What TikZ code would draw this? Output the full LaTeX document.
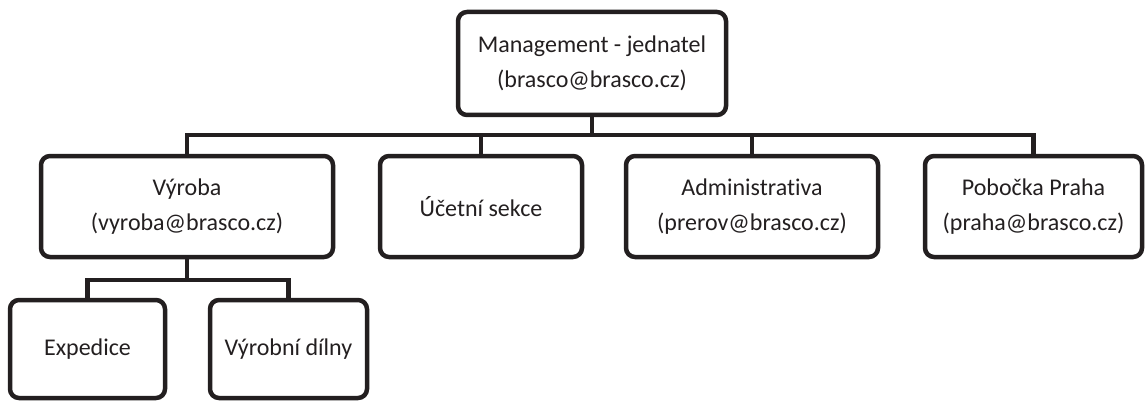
\documentclass[tikz,border=0pt]{standalone}
\usepackage{fontspec}
\setmainfont{Carlito}[Ligatures=NoCommon]
\definecolor{ink}{RGB}{35,31,32}
\begin{document}
\begin{tikzpicture}[x=1pt,y=-1pt,
  box/.style={draw=ink, line width=4.5pt, rounded corners=9pt, align=center,
    inner sep=0pt, text=ink, font=\fontsize{24}{35}\selectfont, minimum height=101pt},
  conn/.style={draw=ink, line width=4.5pt}]
\useasboundingbox (0,0) rectangle (1145,401);
\node[box, minimum width=268pt, minimum height=103pt] (top) at (592,63.5) {Management - jednatel\\(brasco@brasco.cz)};
\node[box, minimum width=292pt] (vyroba) at (187,206.5) {Výroba\\(vyroba@brasco.cz)};
\node[box, minimum width=202pt] (ucetni) at (481,206.5) {Účetní sekce};
\node[box, minimum width=252pt] (admin) at (752,206.5) {Administrativa\\(prerov@brasco.cz)};
\node[box, minimum width=217pt] (praha) at (1033.5,206.5) {Pobočka Praha\\(praha@brasco.cz)};
\node[box, minimum width=155pt, minimum height=98pt] (exped) at (87.5,349) {Expedice};
\node[box, minimum width=157pt, minimum height=98pt] (dilny) at (288.5,349) {Výrobní dílny};
\coordinate (bus) at (0,135);
\coordinate (sub) at (0,280);
\draw[conn] (top.south) -- (top.south |- bus);
\draw[conn] (vyroba.north) -- (vyroba.north |- bus) -- (praha.north |- bus) -- (praha.north);
\draw[conn] (ucetni.north) -- (ucetni.north |- bus);
\draw[conn] (admin.north) -- (admin.north |- bus);
\draw[conn] (vyroba.south) -- (vyroba.south |- sub);
\draw[conn] (exped.north) -- (exped.north |- sub) -- (dilny.north |- sub) -- (dilny.north);
\end{tikzpicture}
\end{document}
